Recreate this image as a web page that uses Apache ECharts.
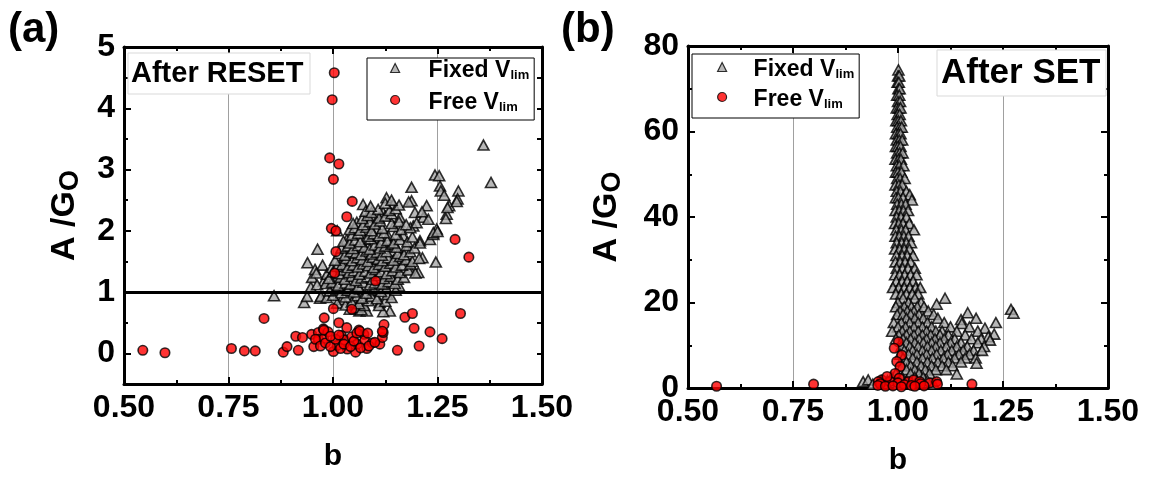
<!DOCTYPE html>
<html>
<head>
<meta charset="utf-8">
<script src="https://cdn.jsdelivr.net/npm/echarts@6/dist/echarts.min.js"></script>
<style>
  html, body { margin: 0; padding: 0; background: #fff; }
  #chart { width: 1155px; height: 480px; }
</style>
</head>
<body>
<div id="chart"></div>
<script>
// Shared axis settings
const bRange = [0.5, 1.5];
const bStep = 0.25;
const resetRange = [-0.5, 5];
const resetStep = 0.5;
const resetMajorTicks = [0, 1, 2, 3, 4, 5];
const setRange = [0, 80];
const setStep = 20;
const thresholdA = 1;
const seriesNames = ['Fixed V_lim', 'Free V_lim'];
const panelTitles = ['After RESET', 'After SET'];
const panelTags = ['(a)', '(b)'];

// (b, A/G0) after RESET, fixed V_lim
const resetFixed = [
  [0.859,0.94],[0.931,0.83],[0.938,0.93],[0.939,1.48],[0.963,1.70],[0.969,0.90],[0.947,1.08],[0.950,1.24],
  [0.957,1.37],[0.971,0.93],[0.975,1.44],[0.978,1.18],[0.985,1.29],[0.997,1.40],[1.005,1.26],[1.001,1.08],
  [1.010,2.00],[1.023,1.51],[1.021,0.88],[1.033,1.86],[1.037,1.10],[1.045,1.62],[1.049,0.88],[1.057,2.14],
  [1.061,1.24],[1.063,0.69],[1.072,2.43],[1.081,0.69],[1.077,1.86],[1.084,1.54],[1.093,1.32],[1.093,1.02],
  [1.096,2.22],[1.104,2.03],[1.108,1.75],[1.112,0.83],[1.117,1.48],[1.120,2.30],[1.124,1.10],[1.128,2.54],
  [1.132,1.92],[1.136,0.69],[1.140,1.67],[1.144,2.43],[1.152,1.32],[1.158,1.10],[1.160,2.22],[1.164,1.54],
  [1.168,1.92],[1.176,1.70],[1.184,1.37],[1.188,2.71],[1.188,2.49],[1.192,2.08],[1.196,2.30],[1.204,1.32],
  [1.208,1.84],[1.214,1.56],[1.216,2.22],[1.224,2.41],[1.228,2.19],[1.232,1.86],[1.240,1.94],[1.246,1.49],
  [1.248,2.03],[1.244,2.91],[1.254,2.90],[1.256,2.73],[1.258,2.65],[1.266,2.58],[1.272,2.27],[1.278,2.41],
  [1.300,2.65],[1.298,2.52],[1.360,3.40],[1.378,2.79],
  [1.040,0.72],[1.055,0.75],[1.068,0.71],[1.075,0.78],[1.120,0.68],
  [1.010,0.82],[1.030,0.79],[1.045,0.84],[1.062,0.81],[1.085,0.86],[1.110,0.78],[1.125,0.85],
  [0.985,0.91],[1.000,0.95],[1.030,0.92],[1.058,0.94],[1.070,0.90],[1.092,0.93],[1.105,0.89],[1.130,0.96],[1.140,0.91],
  [0.992,1.02],[1.008,1.04],[1.020,0.99],[1.035,1.03],[1.050,1.00],[1.065,1.05],[1.080,0.98],[1.098,1.04],
  [1.115,1.01],[1.128,1.06],[1.150,1.03],
  [0.962,1.12],[0.983,1.14],[0.998,1.16],[1.012,1.11],[1.030,1.15],[1.042,1.13],[1.060,1.09],[1.072,1.16],
  [1.088,1.12],[1.100,1.15],[1.118,1.13],[1.133,1.17],[1.148,1.14],
  [0.990,1.22],[1.018,1.24],[1.028,1.21],[1.045,1.26],[1.055,1.19],[1.068,1.23],[1.082,1.25],[1.095,1.21],
  [1.108,1.27],[1.122,1.22],[1.138,1.26],[1.155,1.21],[1.170,1.24],
  [0.960,1.31],[1.000,1.33],[1.015,1.30],[1.025,1.36],[1.038,1.32],[1.050,1.35],[1.063,1.29],[1.077,1.34],
  [1.090,1.31],[1.102,1.37],[1.115,1.33],[1.128,1.30],[1.142,1.35],[1.160,1.32],[1.180,1.36],[1.197,1.31],
  [1.010,1.42],[1.022,1.45],[1.035,1.40],[1.048,1.44],[1.060,1.41],[1.072,1.46],[1.085,1.43],[1.097,1.40],
  [1.110,1.45],[1.125,1.42],[1.137,1.47],[1.150,1.41],[1.165,1.44],[1.185,1.46],
  [1.005,1.52],[1.032,1.55],[1.045,1.51],[1.058,1.56],[1.070,1.53],[1.083,1.50],[1.095,1.57],[1.108,1.54],
  [1.118,1.51],[1.132,1.56],[1.145,1.52],[1.160,1.58],[1.175,1.53],[1.190,1.50],[1.206,1.55],
  [1.015,1.63],[1.028,1.60],[1.042,1.66],[1.055,1.64],[1.067,1.61],[1.080,1.67],[1.092,1.62],[1.105,1.65],
  [1.117,1.60],[1.128,1.66],[1.155,1.63],[1.170,1.61],[1.185,1.66],
  [1.020,1.72],[1.035,1.75],[1.048,1.71],[1.060,1.76],[1.075,1.73],[1.088,1.70],[1.100,1.77],[1.112,1.72],
  [1.125,1.75],[1.140,1.78],[1.152,1.73],[1.176,1.76],[1.195,1.72],
  [1.025,1.83],[1.040,1.80],[1.053,1.85],[1.065,1.82],[1.090,1.87],[1.115,1.81],[1.130,1.84],[1.145,1.80],
  [1.160,1.86],[1.178,1.82],[1.208,1.80],
  [1.045,1.93],[1.060,1.96],[1.085,1.91],[1.097,1.95],[1.110,1.92],[1.122,1.97],[1.150,1.94],[1.190,1.90],[1.240,1.97],
  [1.040,2.02],[1.052,2.05],[1.065,2.01],[1.080,2.06],[1.092,2.00],[1.118,2.04],[1.145,2.07],[1.163,2.02],
  [1.185,2.05],[1.250,1.99],
  [1.048,2.12],[1.072,2.10],[1.088,2.15],[1.100,2.11],[1.113,2.16],[1.140,2.12],[1.158,2.15],[1.175,2.10],[1.200,2.13],
  [1.070,2.20],[1.083,2.25],[1.110,2.21],[1.125,2.24],[1.140,2.28],[1.270,2.20],
  [1.078,2.32],[1.092,2.30],[1.108,2.35],[1.135,2.33],[1.150,2.36],[1.213,2.31],
  [1.090,2.40],[1.125,2.45],[1.158,2.42],[1.181,2.47],[1.274,2.38],
  [1.140,2.50],[1.296,2.48]
];

// (b, A/G0) after RESET, free V_lim
const resetFree = [
  [0.545,0.05],[0.598,0.01],[0.757,0.08],[0.788,0.04],[0.814,0.04],[0.835,0.57],[0.881,0.02],[0.890,0.11],
  [0.911,0.28],[0.917,0.05],[0.927,0.26],[0.949,0.31],[0.954,0.11],[0.965,0.34],[0.977,0.40],[0.965,0.23],
  [0.978,0.24],[0.988,0.35],[0.979,0.58],[1.001,0.73],[1.001,0.03],[1.014,0.50],[1.010,0.13],[1.033,0.42],
  [1.020,0.29],[1.027,0.22],[1.034,0.07],[1.045,0.27],[1.054,0.02],[1.045,0.72],[1.062,0.38],[1.058,0.15],
  [1.074,0.31],[1.076,0.21],[1.081,0.08],[1.094,0.17],[1.112,0.15],[1.118,0.26],[1.120,0.34],[1.122,0.47],
  [1.154,0.05],[1.172,0.59],[1.190,0.65],[1.194,0.41],[1.206,0.12],[1.232,0.35],[1.261,0.24],[1.305,0.65],
  [1.102,1.18],[1.004,1.31],
  [0.958,0.23],[0.970,0.12],[0.982,0.17],[0.994,0.11],[1.006,0.23],[1.018,0.08],[1.026,0.15],[1.042,0.11],
  [1.050,0.20],[1.066,0.09],[1.086,0.12],[1.100,0.18],[1.118,0.36],[0.978,0.38],[0.994,0.28],[1.014,0.30],
  [1.057,0.33],[1.064,0.36],[1.083,0.33],
  [1.003,4.58],[0.998,4.14],[0.992,3.19],[1.014,3.09],[1.001,2.84],[1.046,2.48],[1.033,2.23],[0.996,2.04],
  [1.007,2.00],[1.007,1.66],[1.292,1.86],[1.325,1.57]
];

// (b, A/G0) after SET, fixed V_lim
const setFixed = [
  [1.001,74.4],[1.000,73.0],[1.003,73.0],[0.999,71.5],[1.002,71.5],[1.001,70.0],[1.004,70.0],[0.998,68.5],
  [1.003,68.5],[1.000,67.0],[1.005,67.0],[0.997,65.5],[1.002,65.5],[1.006,65.5],[0.999,64.0],[1.004,64.0],
  [0.996,62.5],[1.001,62.5],[1.007,62.5],[0.998,61.0],[1.004,61.0],[1.009,61.0],[0.995,59.5],[1.001,59.5],
  [1.006,59.5],[0.997,58.0],[1.003,58.0],[1.010,58.0],[0.995,56.5],[1.000,56.5],[1.006,56.5],[0.998,55.0],
  [1.004,55.0],[1.011,55.0],[0.994,53.5],[1.001,53.5],[1.007,53.5],[0.997,52.0],[1.003,52.0],[1.013,52.0],
  [0.995,50.5],[1.000,50.5],[1.008,50.5],[0.998,49.0],[1.005,49.0],[1.016,49.0],[0.994,47.5],[1.002,47.5],
  [1.010,47.5],[0.997,46.0],[1.006,46.0],[1.020,46.0],[1.028,45.2],[0.995,44.5],[1.001,44.5],[1.012,44.5],
  [1.033,44.0],[0.998,43.0],[1.008,43.0],[1.018,43.0],[0.994,41.5],[1.003,41.5],[1.013,41.5],[1.024,41.5],
  [0.997,40.0],[1.007,40.0],[1.020,40.0],[0.993,38.5],[1.002,38.5],[1.012,38.5],[1.027,38.5],[0.996,37.0],
  [1.008,37.0],[1.018,37.0],[1.038,37.0],[0.994,35.5],[1.003,35.5],[1.014,35.5],[1.025,35.5],[0.997,34.0],
  [1.009,34.0],[1.020,34.0],[1.031,34.0],[0.993,32.5],[1.004,32.5],[1.015,32.5],[1.027,32.5],[0.996,31.0],
  [1.010,31.0],[1.022,31.0],[1.036,31.0],[0.994,29.5],[1.005,29.5],[1.017,29.5],[1.030,29.5],[0.997,28.0],
  [1.011,28.0],[1.024,28.0],[1.040,28.0],[0.993,26.5],[1.004,26.5],[1.016,26.5],[1.030,26.5],[1.044,26.5],
  [0.996,25.0],[1.010,25.0],[1.022,25.0],[1.036,25.0],[0.988,23.5],[1.002,23.5],[1.015,23.5],[1.028,23.5],
  [1.042,23.5],[1.053,23.5],[0.995,22.0],[1.008,22.0],[1.020,22.0],[1.034,22.0],[1.048,22.0],
  [1.012,21.0],[1.040,21.0],[1.112,21.0],[1.000,20.0],[1.025,20.0],[1.055,20.0],[1.092,19.6],
  [0.995,19.0],[1.015,19.0],[1.032,19.0],[1.046,19.0],[1.062,19.0],
  [1.005,18.0],[1.022,18.0],[1.038,18.0],[1.072,18.0],[1.166,17.6],[1.269,18.4],
  [0.998,17.2],[1.012,17.2],[1.030,17.2],[1.050,17.2],[1.085,17.2],[1.275,17.5],
  [1.020,16.3],[1.040,16.3],[1.060,16.3],[1.095,16.3],[1.150,16.0],[1.186,16.3],
  [0.990,15.3],[1.008,15.3],[1.028,15.3],[1.048,15.3],[1.070,15.3],[1.110,15.3],[1.152,15.1],[1.233,15.3],
  [1.000,14.3],[1.018,14.3],[1.038,14.3],[1.058,14.3],[1.080,14.3],[1.125,14.3],[1.170,14.3],[1.207,14.0],
  [0.986,13.3],[1.010,13.3],[1.028,13.3],[1.048,13.3],[1.068,13.3],[1.090,13.3],[1.105,13.3],[1.140,13.3],[1.190,13.3],
  [1.002,12.4],[1.020,12.4],[1.038,12.4],[1.058,12.4],[1.078,12.4],[1.100,12.4],[1.120,12.4],[1.160,12.4],
  [1.229,12.6],[1.215,12.0],
  [0.995,11.5],[1.012,11.5],[1.030,11.5],[1.050,11.5],[1.068,11.5],[1.088,11.5],[1.110,11.5],[1.135,11.5],
  [1.175,11.5],[1.198,11.5],
  [1.020,10.6],[1.040,10.6],[1.060,10.6],[1.080,10.6],[1.100,10.6],[1.125,10.6],[1.150,10.6],[1.190,10.6],[1.219,11.2],
  [1.008,9.7],[1.028,9.7],[1.048,9.7],[1.070,9.7],[1.090,9.7],[1.115,9.7],[1.140,9.7],[1.165,9.7],[1.205,9.7],
  [1.015,8.8],[1.035,8.8],[1.058,8.8],[1.080,8.8],[1.102,8.8],[1.128,8.8],[1.155,8.8],[1.180,8.8],[1.200,8.8],
  [1.005,7.9],[1.025,7.9],[1.045,7.9],[1.068,7.9],[1.092,7.9],[1.118,7.9],[1.145,7.9],[1.170,7.9],
  [1.012,7.0],[1.035,7.0],[1.058,7.0],[1.082,7.0],[1.108,7.0],[1.135,7.0],[1.160,7.0],[1.185,7.0],
  [1.020,6.1],[1.045,6.1],[1.070,6.1],[1.095,6.1],[1.120,6.1],[1.150,6.1],
  [1.010,5.2],[1.030,5.2],[1.055,5.2],[1.080,5.2],[1.105,5.2],[1.130,5.2],[1.187,5.8],
  [1.020,4.3],[1.040,4.3],[1.065,4.3],[1.090,4.3],[1.115,4.3],
  [0.995,3.4],[1.030,3.4],[1.050,3.4],[1.075,3.4],[1.140,3.3],
  [0.985,2.5],[1.010,2.5],[1.040,2.5],[1.060,2.5],
  [0.917,1.5],[0.929,1.9],[0.960,1.7],[0.975,1.7],[1.020,1.7],[1.045,1.7],[1.070,1.7],
  [0.940,0.9],[0.970,0.9],[1.000,0.9],[1.030,0.9],[1.085,0.9]
];

// (b, A/G0) after SET, free V_lim
const setFree = [
  [0.568,0.4],[0.799,0.9],[1.176,0.9],[1.001,10.8],[0.991,9.3],[1.009,7.7],[0.997,6.2],[1.005,5.0],
  [0.993,3.4],[0.961,1.9],[0.953,1.5],[0.969,0.9],[0.981,1.5],[1.003,2.3],[1.025,1.5],[1.037,1.9],
  [1.052,1.5],[1.076,1.2],[1.092,1.5],[0.958,1.0],[0.974,2.7],[1.000,1.2],[1.015,0.8],[1.032,0.6],
  [1.054,1.0],[1.094,0.9],[0.952,0.6],[0.970,0.4],[0.988,0.5],[1.008,0.3],[1.062,0.5],[1.040,0.4]
];

const FONT = '"Liberation Sans", Arial, Helvetica, sans-serif';
const borderLine = { color: '#000', width: 3 };
const tickLine = { color: '#000', width: 2 };
const labelFont = { fontFamily: FONT, fontWeight: 'bold', fontSize: 32, color: '#000' };

function xAxes(gridIndex) {
  const base = { type: 'value', gridIndex, min: bRange[0], max: bRange[1], interval: bStep };
  return [
    Object.assign({}, base, {
      position: 'bottom',
      name: 'b', nameLocation: 'middle', nameGap: 58,
      nameTextStyle: { fontFamily: FONT, fontWeight: 'bold', fontSize: 30, color: '#000' },
      axisLine: { onZero: false, lineStyle: borderLine },
      axisTick: { inside: true, length: 7, lineStyle: tickLine },
      minorTick: { show: true, splitNumber: 2, length: 4, lineStyle: tickLine },
      axisLabel: Object.assign({ formatter: v => v.toFixed(2), margin: 8 }, labelFont),
      splitLine: { show: true, lineStyle: { color: '#a0a0a0', width: 1 } }
    }),
    Object.assign({}, base, {
      position: 'top',
      axisLine: { onZero: false, lineStyle: borderLine },
      axisTick: { inside: true, length: 7, lineStyle: tickLine },
      minorTick: { show: true, splitNumber: 2, length: 4, lineStyle: tickLine },
      axisLabel: { show: false },
      splitLine: { show: false }
    })
  ];
}

const yName = '{m|A /G}{s|O}';
const yNameStyle = {
  fontFamily: FONT, color: '#000',
  rich: {
    m: { fontFamily: FONT, fontWeight: 'bold', fontSize: 34, lineHeight: 38, color: '#000' },
    s: { fontFamily: FONT, fontWeight: 'bold', fontSize: 27, lineHeight: 30, verticalAlign: 'bottom', color: '#000' }
  }
};

const isWhole = v => Math.abs(v - Math.round(v)) < 1e-6;

const yAxes = [
  // panel (a): labelled left axis with a tick every 0.5
  {
    type: 'value', gridIndex: 0, position: 'left',
    min: resetRange[0], max: resetRange[1], interval: resetStep,
    name: yName, nameLocation: 'middle', nameGap: 40, nameRotate: 90, nameTextStyle: yNameStyle,
    axisLine: { onZero: false, lineStyle: borderLine },
    axisTick: { inside: true, length: 4, lineStyle: tickLine },
    axisLabel: Object.assign({ margin: 9, formatter: v => (isWhole(v) ? String(Math.round(v)) : '') }, labelFont),
    splitLine: { show: false }
  },
  // panel (a): longer ticks on whole numbers
  {
    type: 'value', gridIndex: 0, position: 'left',
    min: resetRange[0], max: resetRange[1],
    axisLine: { show: false },
    axisTick: { inside: true, length: 7, lineStyle: tickLine, customValues: resetMajorTicks },
    axisLabel: { show: false },
    splitLine: { show: false }
  },
  // panel (a): right frame
  {
    type: 'value', gridIndex: 0, position: 'right',
    min: resetRange[0], max: resetRange[1], interval: resetStep,
    axisLine: { onZero: false, lineStyle: borderLine },
    axisTick: { inside: true, length: 5, lineStyle: tickLine },
    axisLabel: { show: false },
    splitLine: { show: false }
  },
  // panel (b): labelled left axis
  {
    type: 'value', gridIndex: 1, position: 'left',
    min: setRange[0], max: setRange[1], interval: setStep,
    name: yName, nameLocation: 'middle', nameGap: 62, nameRotate: 90, nameTextStyle: yNameStyle,
    axisLine: { onZero: false, lineStyle: borderLine },
    axisTick: { inside: true, length: 7, lineStyle: tickLine },
    minorTick: { show: true, splitNumber: 2, length: 4, lineStyle: tickLine },
    axisLabel: Object.assign({ margin: 9 }, labelFont),
    splitLine: { show: false }
  },
  // panel (b): right frame
  {
    type: 'value', gridIndex: 1, position: 'right',
    min: setRange[0], max: setRange[1], interval: setStep,
    axisLine: { onZero: false, lineStyle: borderLine },
    axisTick: { inside: true, length: 7, lineStyle: tickLine },
    minorTick: { show: true, splitNumber: 2, length: 4, lineStyle: tickLine },
    axisLabel: { show: false },
    splitLine: { show: false }
  }
];

const triangleStyle = { color: '#a6a6a6', borderColor: '#000', borderWidth: 1.6 };
const circleStyle = { color: '#ff0000', borderColor: '#000', borderWidth: 1.6 };

function legendFor(pos) {
  return Object.assign({
    orient: 'vertical',
    data: seriesNames,
    selectedMode: false,
    itemWidth: 9, itemHeight: 9,
    backgroundColor: '#fff',
    borderColor: '#000', borderWidth: 1, borderRadius: 0,
    itemStyle: { borderColor: '#000', borderWidth: 1.2 },
    formatter: name => {
      const parts = name.split('_');
      return '{g|}{m|' + parts[0] + '}{s|' + parts[1] + '}';
    },
    textStyle: {
      fontFamily: FONT, color: '#000',
      rich: {
        g: { width: pos.gap },
        m: { fontFamily: FONT, fontWeight: 'bold', fontSize: 23, lineHeight: 28, verticalAlign: 'bottom', color: '#000' },
        s: { fontFamily: FONT, fontWeight: 'bold', fontSize: 13, lineHeight: 6, verticalAlign: 'bottom', color: '#000' }
      }
    }
  }, pos.box);
}

const option = {
  animation: false,
  backgroundColor: '#fff',
  grid: [
    { left: 124, top: 47, width: 418, height: 337, containLabel: false, outerBoundsMode: 'none' },
    { left: 688, top: 46, width: 420, height: 342, containLabel: false, outerBoundsMode: 'none' }
  ],
  xAxis: xAxes(0).concat(xAxes(1)),
  yAxis: yAxes,
  legend: [
    legendFor({ gap: 24, box: { left: 367, top: 58, padding: [1, 5, 6, 23], itemGap: 9 } }),
    legendFor({ gap: 22, box: { left: 692, top: 54, padding: [4, 5, 7, 25], itemGap: 7 } })
  ],
  graphic: [
    { type: 'text', left: 8, top: 9, z: 5, style: { text: panelTags[0], font: 'bold 42px ' + FONT, fill: '#000' } },
    { type: 'text', left: 561, top: 9, z: 5, style: { text: panelTags[1], font: 'bold 42px ' + FONT, fill: '#000' } },
    { type: 'rect', z: 1, shape: { x: 128, y: 53, width: 182, height: 41 },
      style: { fill: '#fff', stroke: '#d9d9d9', lineWidth: 1 } },
    { type: 'text', z: 1, x: 131, y: 74,
      style: { text: panelTitles[0], font: 'bold 29px ' + FONT, fill: '#000', verticalAlign: 'middle', textVerticalAlign: 'middle' } },
    { type: 'rect', z: 1, shape: { x: 937, y: 50, width: 169, height: 46 },
      style: { fill: '#fff', stroke: '#d9d9d9', lineWidth: 1 } },
    { type: 'text', z: 1, x: 941, y: 73,
      style: { text: panelTitles[1], font: 'bold 35px ' + FONT, fill: '#000', verticalAlign: 'middle', textVerticalAlign: 'middle' } }
  ],
  series: [
    {
      type: 'scatter', name: seriesNames[0], xAxisIndex: 0, yAxisIndex: 0,
      data: resetFixed, symbol: 'triangle', symbolSize: [11, 10], itemStyle: triangleStyle,
      markLine: {
        silent: true, symbol: 'none', label: { show: false },
        lineStyle: { color: '#000', width: 3, type: 'solid' },
        data: [{ yAxis: thresholdA }]
      }
    },
    {
      type: 'scatter', name: seriesNames[1], xAxisIndex: 0, yAxisIndex: 0,
      data: resetFree, symbol: 'circle', symbolSize: 9.5, itemStyle: circleStyle
    },
    {
      type: 'scatter', name: seriesNames[0], xAxisIndex: 2, yAxisIndex: 3,
      data: setFixed, symbol: 'triangle', symbolSize: [11, 10], itemStyle: triangleStyle
    },
    {
      type: 'scatter', name: seriesNames[1], xAxisIndex: 2, yAxisIndex: 3,
      data: setFree, symbol: 'circle', symbolSize: 9.5, itemStyle: circleStyle
    }
  ]
};

const chart = echarts.init(document.getElementById('chart'), null, { renderer: 'canvas' });
chart.setOption(option);
</script>
</body>
</html>
